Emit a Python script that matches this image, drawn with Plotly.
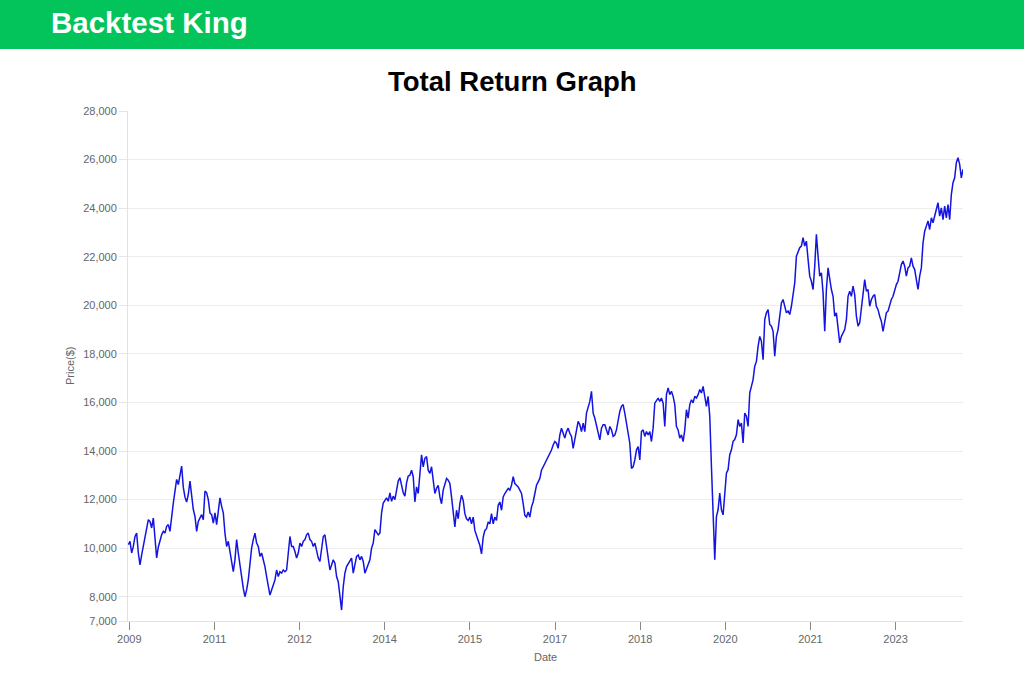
import plotly.graph_objects as go

# ---- data (portfolio value, $) ----
prices_2009_2014 = [
    10140, 10280, 9800, 10070, 10480, 10620, 9800, 9310, 9720, 10070,
    10480, 10690, 11170, 11100, 10830, 11240, 10300, 9600, 10050, 10350,
    10550, 10690, 10620, 10900, 10970, 10690, 11170, 11860, 12350, 12830,
    12620, 12970, 13380, 12500, 12100, 11900, 12210, 12760, 12140, 11590,
    11310, 10690, 11100, 11240, 11380, 11170, 12350, 12280, 12000, 11450,
    11380, 11030, 11450, 10970, 11590, 12070, 11720, 11450, 10620, 10070,
    10280, 9800, 9520, 9030, 9520, 10350, 9800, 9240, 8690, 8340,
    8000, 8280, 8690, 9520, 10000, 10350, 10620, 10210, 10070, 9660,
    9800, 9520, 9240, 8830, 8340, 8070, 8280, 8480, 8690, 9100,
    8830, 9030, 8970, 9100, 9030, 9100, 9930, 10480, 10070, 10070,
    9860, 9590, 9800, 10210, 10070, 10280, 10350, 10550, 10620, 10350,
    10280, 10070, 10210, 9860, 9590, 9450, 10070, 10480, 10550, 10070,
    9520, 9100, 9310, 9520, 9380, 8830, 8620, 8000, 7450, 8410,
    8970, 9240, 9380, 9520, 9590, 8970, 9380, 9660, 9720, 9520,
    9660, 9450, 8970, 9170, 9310, 9520, 10000, 10210, 10760, 10620,
    10550, 10620, 11450, 11860, 12000, 12070, 11930, 12280, 11930, 12140,
    12000, 12410, 12760, 12900, 12550, 12280, 12140, 12690, 12970, 13000,
]

prices_2014_2020 = [
    13210, 12940, 11900, 12520, 12250, 12940, 13840, 13350, 13700, 13770,
    13210, 13080, 13350, 12800, 12250, 12460, 12590, 12110, 11830, 12390,
    12660, 12870, 12800, 12660, 12110, 11420, 10870, 11560, 11210, 11830,
    12180, 11970, 11420, 11210, 11140, 11280, 11000, 11280, 10730, 10520,
    10320, 10110, 9760, 10450, 10730, 10800, 11080, 11000, 11420, 11000,
    11280, 11140, 11770, 11900, 11560, 12110, 12250, 12390, 12460, 12390,
    12590, 12940, 12660, 12590, 12520, 12390, 12250, 11830, 11350, 11280,
    11490, 11280, 11700, 11900, 12250, 12590, 12730, 12870, 13210, 13350,
    13490, 13630, 13770, 13840, 14040, 14250, 14390, 14320, 14110, 14660,
    14940, 14730, 14530, 14800, 14940, 14730, 14600, 14110, 14530, 14800,
    15220, 15080, 14800, 15150, 14800, 15560, 15770, 16040, 16460, 15560,
    15350, 15080, 14800, 14460, 14940, 15080, 15080, 14870, 14660, 15010,
    14870, 14600, 14660, 14870, 15290, 15630, 15840, 15910, 15560, 15150,
    14660, 14320, 13280, 13350, 13630, 14040, 14180, 13630, 14800, 14870,
    14600, 14800, 14660, 14800, 14390, 14940, 15970, 16110, 16180, 16040,
    16180, 15970, 15010, 16320, 16600, 16320, 16460, 16250, 15910, 15010,
    14870, 14530, 14660, 14390, 14870, 15700, 15350,
]

prices_2020_2024 = [
    15910, 16110, 15980, 16250, 16180, 16320, 16530, 16390, 16660, 16320,
    15840, 16250, 15430, 13370, 11580, 9520, 11300, 11580, 12270, 11580,
    11370, 12130, 13090, 13230, 13850, 14050, 14400, 14470, 14670, 15290,
    15010, 15150, 14330, 15560, 15430, 15010, 16390, 16660, 16940, 17490,
    17690, 18310, 18720, 18520, 17760, 19410, 19690, 19820, 19210, 19140,
    18930, 17900, 18720, 19000, 19480, 20100, 20240, 19890, 19690, 19760,
    19620, 19960, 20510, 20920, 22020, 22230, 22370, 22440, 22780, 22440,
    22640, 21890, 21200, 20990, 20650, 21610, 22920, 22020, 21200, 21340,
    20510, 18930, 20650, 21540, 20990, 20650, 20370, 19550, 19690, 19140,
    18450, 18720, 18860, 19000, 19410, 20370, 20580, 20370, 20790, 20440,
    19550, 19140, 19280, 19960, 20370, 21060, 20580, 20650, 19960, 20240,
    20370, 20440, 19960, 19820, 19550, 19340, 18930, 19280, 19690, 19760,
    20030, 20240, 20370, 20650, 20850, 20990, 21400, 21680, 21820, 21610,
    21200, 21540, 21610, 21950, 21610, 21470, 21060, 20650, 21200, 21540,
    22570, 23050, 23260, 23470, 23120, 23600, 23400, 23670, 23950, 24220,
    23670, 24010, 23530, 24080, 23600, 24150, 23530, 24560, 25050, 25250,
    25870, 26080, 25800, 25250, 25600,
]

prices = prices_2009_2014 + prices_2014_2020 + prices_2020_2024
steps = list(range(len(prices)))

x_tick_labels = ["2009", "2011", "2012", "2014", "2015", "2017", "2018", "2020", "2021", "2023"]
x_tick_steps = [0.6, 51.7, 102.8, 153.9, 205.0, 256.1, 307.2, 358.3, 409.4, 460.5]
y_tick_values = [7000, 8000, 10000, 12000, 14000, 16000, 18000, 20000,
                 22000, 24000, 26000, 28000]

# ---- layout geometry (px) ----
W, H = 1024, 673
L, R, T, B = 128, 963, 111, 621
PW, PH = R - L, B - T


def px(xp):
    return (xp - L) / PW


def py(yp):
    return (B - yp) / PH


FONT = "Liberation Sans, Arial, Helvetica, sans-serif"
GREY = "#666666"

fig = go.Figure()
fig.add_trace(go.Scatter(
    x=steps, y=prices, mode="lines",
    line=dict(color="#1414e0", width=1.5),
    hoverinfo="y", showlegend=False,
))

fig.update_layout(
    width=W, height=H,
    margin=dict(l=L, r=W - R, t=T, b=H - B, pad=0),
    paper_bgcolor="white", plot_bgcolor="white",
    font=dict(family=FONT, color=GREY, size=11),
    showlegend=False,
    shapes=[dict(
        type="rect", xref="paper", yref="paper",
        x0=px(0), x1=px(W), y0=py(49), y1=py(0),
        fillcolor="#03c45a", line=dict(width=0), layer="above",
    )],
    annotations=[
        dict(text="Backtest King", xref="paper", yref="paper",
             x=px(49), y=py(23), xanchor="left", yanchor="middle",
             showarrow=False,
             font=dict(family=FONT, size=29.5, color="white", weight="bold")),
        dict(text="Total Return Graph", xref="paper", yref="paper",
             x=px(512.5), y=py(82), xanchor="center", yanchor="middle",
             showarrow=False,
             font=dict(family=FONT, size=27.5, color="black", weight="bold")),
        dict(text="Price($)", xref="paper", yref="paper",
             x=px(70), y=py(366), xanchor="center", yanchor="middle",
             textangle=-90, showarrow=False,
             font=dict(family=FONT, size=11, color=GREY)),
        dict(text="Date", xref="paper", yref="paper",
             x=px(545), y=py(657), xanchor="center", yanchor="middle",
             showarrow=False,
             font=dict(family=FONT, size=11, color=GREY)),
    ],
)

fig.update_xaxes(
    range=[-0.2, 501.0],
    tickmode="array", tickvals=x_tick_steps, ticktext=x_tick_labels,
    ticks="outside", ticklen=8, tickwidth=1, tickcolor="#888888",
    tickfont=dict(size=11, color=GREY),
    showgrid=False, zeroline=False,
    showline=True, linecolor="#e2e2e2", linewidth=1,
    fixedrange=True,
)
fig.update_yaxes(
    range=[7000, 28000],
    tickmode="array", tickvals=y_tick_values, tickformat=",",
    ticks="outside", ticklen=8, tickwidth=1, tickcolor="#e6e6e6",
    tickfont=dict(size=11, color=GREY),
    showgrid=True, gridcolor="#ededed", gridwidth=1, zeroline=False,
    showline=True, linecolor="#e2e2e2", linewidth=1,
    fixedrange=True,
)

fig.write_html("out.html", config={"displayModeBar": False})
